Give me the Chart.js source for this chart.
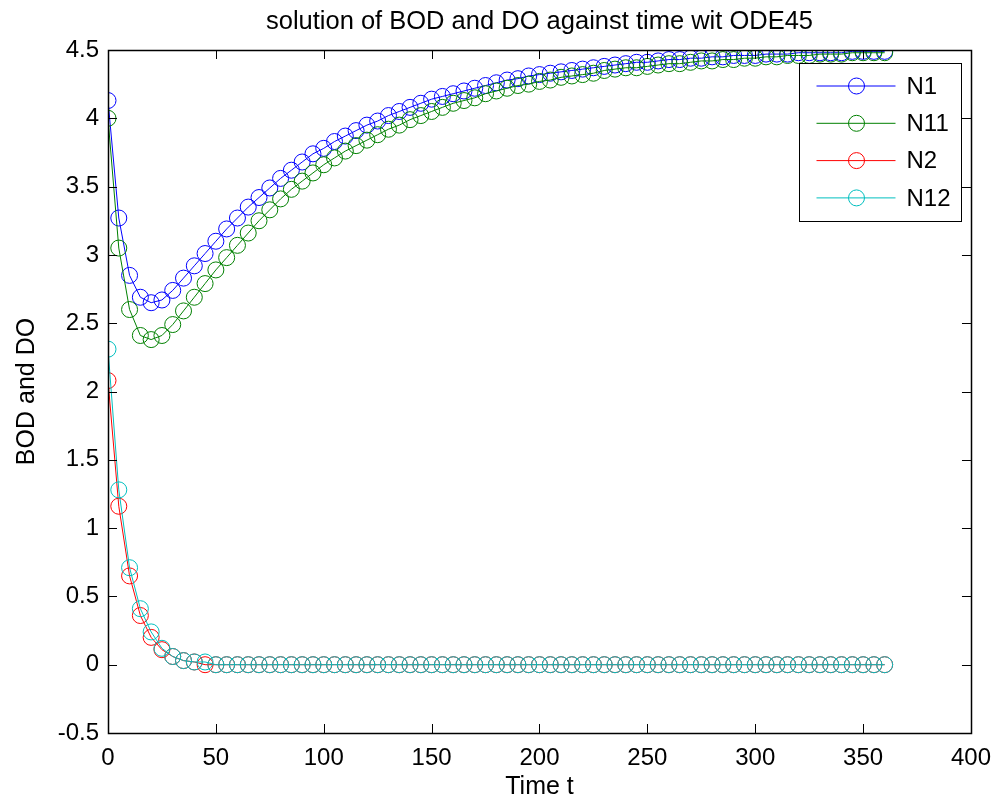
<!DOCTYPE html>
<html>
<head>
<meta charset="utf-8">
<script src="https://cdn.jsdelivr.net/npm/chart.js@4.4.1/dist/chart.umd.min.js"></script>
<style>
  html, body { margin: 0; padding: 0; background: #fff; }
  #wrap { width: 1002px; height: 802px; }
</style>
</head>
<body>
<div id="wrap"><canvas id="chart" width="1002" height="802"></canvas></div>
<script>
// time points (ODE45 output every 5 units)
var times = [
	0, 5, 10, 15, 20, 25, 30, 35, 40, 45,
	50, 55, 60, 65, 70, 75, 80, 85, 90, 95,
	100, 105, 110, 115, 120, 125, 130, 135, 140, 145,
	150, 155, 160, 165, 170, 175, 180, 185, 190, 195,
	200, 205, 210, 215, 220, 225, 230, 235, 240, 245,
	250, 255, 260, 265, 270, 275, 280, 285, 290, 295,
	300, 305, 310, 315, 320, 325, 330, 335, 340, 345,
	350, 355, 360
];

var n1 = [
	4.13, 3.27, 2.85, 2.69, 2.65, 2.67, 2.74, 2.83, 2.92, 3.01,
	3.10, 3.19, 3.27, 3.35, 3.42, 3.49, 3.56, 3.62, 3.68, 3.74,
	3.78, 3.83, 3.87, 3.91, 3.95, 3.98, 4.02, 4.05, 4.08, 4.11,
	4.14, 4.16, 4.18, 4.20, 4.22, 4.24, 4.26, 4.28, 4.29, 4.31,
	4.32, 4.33, 4.34, 4.35, 4.36, 4.37, 4.38, 4.39, 4.40, 4.41,
	4.41, 4.42, 4.43, 4.43, 4.44, 4.44, 4.45, 4.45, 4.46, 4.46,
	4.46, 4.47, 4.47, 4.47, 4.48, 4.48, 4.48, 4.48, 4.48, 4.49,
	4.49, 4.49, 4.49
];

var n11 = [
	4.00, 3.05, 2.60, 2.41, 2.38, 2.41, 2.49, 2.59, 2.69, 2.79,
	2.89, 2.98, 3.07, 3.16, 3.25, 3.33, 3.41, 3.48, 3.54, 3.60,
	3.66, 3.71, 3.76, 3.80, 3.84, 3.88, 3.92, 3.95, 3.99, 4.02,
	4.05, 4.08, 4.11, 4.13, 4.15, 4.18, 4.20, 4.22, 4.24, 4.25,
	4.27, 4.28, 4.30, 4.31, 4.32, 4.33, 4.35, 4.36, 4.37, 4.37,
	4.38, 4.39, 4.40, 4.40, 4.41, 4.42, 4.42, 4.43, 4.43, 4.44,
	4.44, 4.45, 4.45, 4.46, 4.46, 4.46, 4.47, 4.47, 4.47, 4.48,
	4.48, 4.48, 4.48
];

var n2 = [
	2.08, 1.16, 0.65, 0.36, 0.20, 0.11, 0.06, 0.03, 0.02, 0.00,
	0, 0, 0, 0, 0, 0, 0, 0, 0, 0,
	0, 0, 0, 0, 0, 0, 0, 0, 0, 0,
	0, 0, 0, 0, 0, 0, 0, 0, 0, 0,
	0, 0, 0, 0, 0, 0, 0, 0, 0, 0,
	0, 0, 0, 0, 0, 0, 0, 0, 0, 0,
	0, 0, 0, 0, 0, 0, 0, 0, 0, 0,
	0, 0, 0
];

var n12 = [
	2.31, 1.28, 0.71, 0.41, 0.24, 0.12, 0.06, 0.03, 0.02, 0.02,
	0, 0, 0, 0, 0, 0, 0, 0, 0, 0,
	0, 0, 0, 0, 0, 0, 0, 0, 0, 0,
	0, 0, 0, 0, 0, 0, 0, 0, 0, 0,
	0, 0, 0, 0, 0, 0, 0, 0, 0, 0,
	0, 0, 0, 0, 0, 0, 0, 0, 0, 0,
	0, 0, 0, 0, 0, 0, 0, 0, 0, 0,
	0, 0, 0
];

var seriesNames = ["N1", "N11", "N2", "N12"];
var seriesColors = ["#0000ff", "#008000", "#ff0000", "#00bfbf"];
var titleText = 'solution of BOD and DO against time wit ODE45';

var FONT = "'Liberation Sans', Arial, sans-serif";

function pairs(ys) {
	return times.map(function(t, i) { return {x: t, y: ys[i]}; });
}

function makeSet(i, ys) {
	return {
		label: seriesNames[i],
		data: pairs(ys),
		showLine: true,
		borderColor: seriesColors[i],
		borderWidth: 1,
		pointRadius: 8,
		pointBorderWidth: 1,
		pointBorderColor: seriesColors[i],
		pointBackgroundColor: 'rgba(0,0,0,0)',
		order: 4 - i   // later series on top, like matlab
	};
}

// matlab style box, inward ticks, title over the axes and legend
var matlabAxes = {
	id: 'matlabAxes',
	afterDatasetsDraw: function(chart) {
		var ctx = chart.ctx;
		var a = chart.chartArea;
		var xs = chart.scales.x, ys = chart.scales.y;
		var tl = 9;
		ctx.save();
		ctx.strokeStyle = '#000';
		ctx.lineWidth = 1;
		ctx.beginPath();
		xs.ticks.forEach(function(tk) {
			var px = Math.round(xs.getPixelForValue(tk.value)) + 0.5;
			ctx.moveTo(px, a.bottom); ctx.lineTo(px, a.bottom - tl);
			ctx.moveTo(px, a.top); ctx.lineTo(px, a.top + tl);
		});
		ys.ticks.forEach(function(tk) {
			var py = Math.round(ys.getPixelForValue(tk.value)) + 0.5;
			ctx.moveTo(a.left, py); ctx.lineTo(a.left + tl, py);
			ctx.moveTo(a.right, py); ctx.lineTo(a.right - tl, py);
		});
		ctx.stroke();
		ctx.lineWidth = 1.5;
		ctx.strokeRect(Math.round(a.left) + 0.5, Math.round(a.top) + 0.5,
			Math.round(a.right - a.left), Math.round(a.bottom - a.top));

		// title, centred on the axes like matlab does
		ctx.fillStyle = '#000';
		ctx.font = '25.5px ' + FONT;
		ctx.textAlign = 'center';
		ctx.textBaseline = 'middle';
		ctx.fillText(titleText, (a.left + a.right) / 2, 22);

		// legend
		var bw = 162, bh = 158;
		var bx = Math.round(a.right - 10 - bw) + 0.5;
		var by = Math.round(a.top + 13) + 0.5;
		ctx.fillStyle = '#fff';
		ctx.fillRect(bx, by, bw, bh);
		ctx.lineWidth = 1;
		ctx.strokeStyle = '#000';
		ctx.strokeRect(bx, by, bw, bh);
		ctx.font = '24px ' + FONT;
		ctx.textAlign = 'left';
		for (var i = 0; i < seriesNames.length; i++) {
			var ry = by + 22.5 + i * 37.3;
			ctx.strokeStyle = seriesColors[i];
			ctx.beginPath();
			ctx.moveTo(bx + 17, ry); ctx.lineTo(bx + 96, ry);
			ctx.stroke();
			ctx.beginPath();
			ctx.arc(bx + 57, ry, 8, 0, Math.PI * 2);
			ctx.stroke();
			ctx.fillStyle = '#000';
			ctx.fillText(seriesNames[i], bx + 107, ry + 1);
		}
		ctx.restore();
	}
};

Chart.defaults.font.family = FONT;
Chart.defaults.font.size = 24;
Chart.defaults.color = '#000';

new Chart(document.getElementById('chart'), {
	type: 'scatter',
	data: {
		datasets: [makeSet(0, n1), makeSet(1, n11), makeSet(2, n2), makeSet(3, n12)]
	},
	options: {
		responsive: false,
		devicePixelRatio: 1,
		animation: false,
		layout: { padding: { top: 50, right: 27, bottom: 0, left: 0 } },
		plugins: {
			legend: { display: false },
			tooltip: { enabled: false },
			title: { display: false }
		},
		scales: {
			x: {
				type: 'linear',
				min: 0, max: 400,
				grid: { display: false, drawTicks: false },
				border: { display: false },
				ticks: { stepSize: 50, padding: 11, maxRotation: 0 },
				title: { display: true, text: 'Time t', font: { size: 25 }, padding: { top: 0, bottom: 0 } },
				afterFit: function(s) { s.height = 69; }
			},
			y: {
				type: 'linear',
				min: -0.5, max: 4.5,
				grid: { display: false, drawTicks: false },
				border: { display: false },
				ticks: {
					stepSize: 0.5, padding: 9,
					callback: function(v) { return String(Math.round(v * 10) / 10); }
				},
				title: { display: true, text: 'BOD and DO', font: { size: 25 }, padding: { top: 12, bottom: 0 } },
				afterFit: function(s) { s.width = 108; }
			}
		}
	},
	plugins: [matlabAxes]
});
</script>
</body>
</html>
